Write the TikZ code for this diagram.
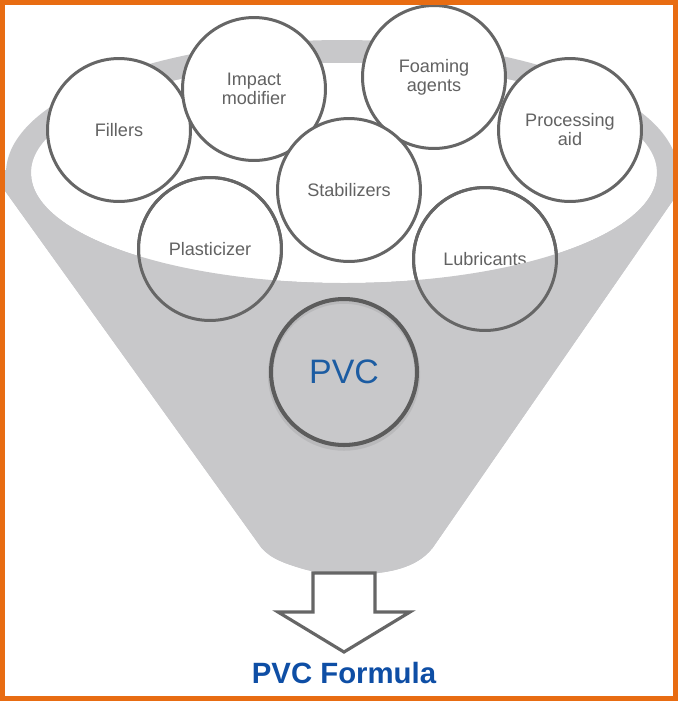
\documentclass[tikz,border=0pt]{standalone}
\usepackage{fontspec}
\setmainfont{Liberation Sans}
\usepackage{xcolor}
\usepackage{tikz}
\usetikzlibrary{positioning}

\definecolor{funnelgray}{RGB}{200,200,202}
\definecolor{ringgray}{RGB}{102,102,102}
\definecolor{labelgray}{RGB}{98,98,98}
\definecolor{pvcblue}{RGB}{28,92,162}
\definecolor{titleblue}{RGB}{14,78,165}
\definecolor{frameorange}{RGB}{232,108,18}

\begin{document}
\begin{tikzpicture}[
  x=0.02cm, y=-0.02cm,
  additive/.style={
    circle, draw=ringgray, line width=1.7pt, fill=white,
    minimum size=2.86cm, inner sep=0pt,
    align=center, text=labelgray,
    font=\fontsize{10.3}{10.8}\selectfont
  },
  ring/.style={draw=ringgray, line width=1.7pt},
  base/.style={
    circle, draw=ringgray!90!black, line width=2.3pt,
    minimum size=2.92cm, inner sep=0pt,
    text=pvcblue, font=\fontsize{19.3}{22}\selectfont
  },
  outlet/.style={draw=ringgray, line width=1.8pt, fill=white, line join=miter},
]

\useasboundingbox (0,0) rectangle (678,701);
\begin{scope}
\clip (0,0) rectangle (678,701);

%% ── Funnel, back part ────────────────────────────────────────────
\fill[funnelgray] (342,173) ellipse [x radius=336, y radius=133];
\fill[funnelgray] (-10,170) -- (258,543)
  .. controls (266,556) and (280,562) .. (300,568)
  .. controls (325,576) and (365,577) .. (395,570)
  .. controls (415,565) and (428,556) .. (436,543)
  -- (694,170) -- cycle;
\fill[white] (344,173) ellipse [x radius=313, y radius=110];

%% ── Additives ────────────────────────────────────────────────────
\node[additive] (fill)  at (119,130) {Fillers};
\node[additive] (imp)   at (254,89)  {Impact\\modifier};
\node[additive] (foam)  at (434,77)  {Foaming\\agents};
\node[additive] (proc)  at (570,130) {Processing\\aid};
\node[additive] (stab)  at (349,190) {Stabilizers};
\node[additive] (plast) at (210,249) {Plasticizer};
\node[additive] (lub)   at (485,259) {Lubricants};

%% ── Funnel, front part (hides the lower rings) ───────────────────
\begin{scope}
  \clip (-10,170) -- (258,543)
    .. controls (266,556) and (280,562) .. (300,568)
    .. controls (325,576) and (365,577) .. (395,570)
    .. controls (415,565) and (428,556) .. (436,543)
    -- (694,170) -- cycle;
  \fill[funnelgray, even odd rule] (-20,150) rectangle (700,600)
    (344,173) ellipse [x radius=313, y radius=110];
\end{scope}
\draw[ring] (plast.center) circle [radius=1.43cm];
\draw[ring] (lub.center)   circle [radius=1.43cm];

%% ── PVC ──────────────────────────────────────────────────────────
\draw[black, opacity=0.07, line width=3pt] ([yshift=-1.5pt]344,372) circle [radius=1.47cm];
\node[base] (pvc) at (344,372) {PVC};

%% ── Outlet arrow ─────────────────────────────────────────────────
\coordinate (spout) at (344,573);
\draw[outlet] ([xshift=-0.62cm]spout) -- ([xshift=0.62cm]spout)
  -- ++(0,39) -- ++(35,0) -- (344,652) -- (278,612) -- (313,612) -- cycle;

\node[text=titleblue, font=\bfseries\fontsize{16.7}{20}\selectfont]
      (formula) at (344,673) {PVC Formula};

\end{scope}

%% ── Frame ────────────────────────────────────────────────────────
\draw[frameorange, line width=0.1cm] (2.5,2.5) rectangle (675.5,698.5);

\end{tikzpicture}
\end{document}
